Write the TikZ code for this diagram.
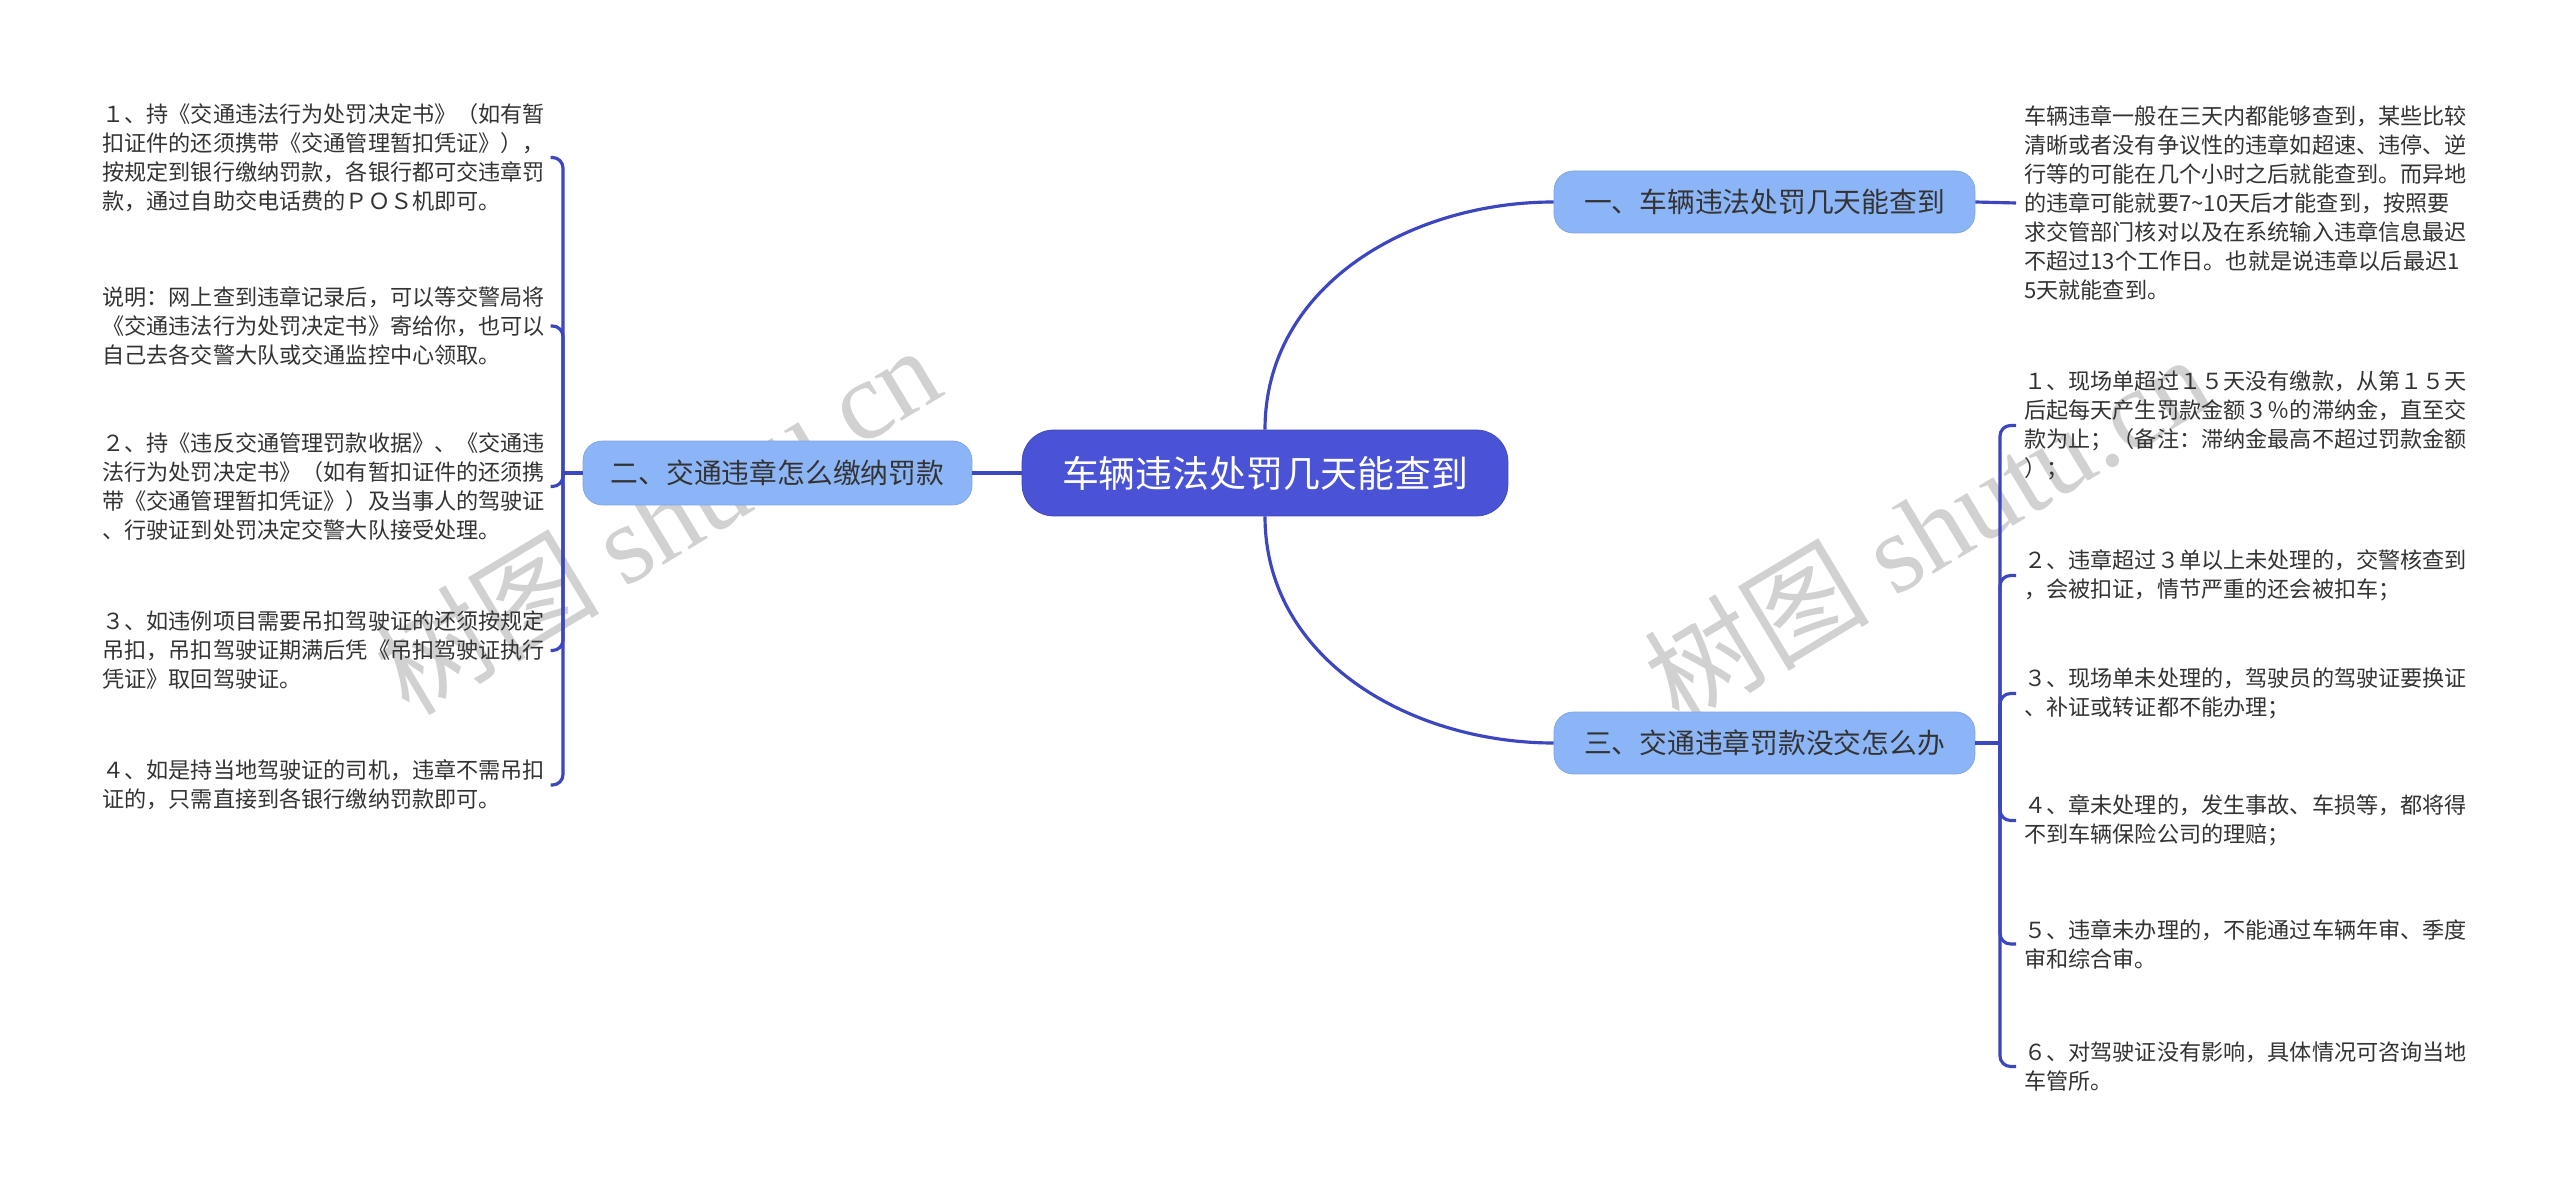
\documentclass[tikz,border=0pt]{standalone}
\usepackage{fontspec}
\setmainfont{Noto Sans CJK SC}
\newfontfamily\wmfont{Liberation Serif}
\usepackage{tikz}
\usetikzlibrary{positioning}
\definecolor{rootblue}{HTML}{4A52D6}
\definecolor{branchblue}{HTML}{8CB5F7}
\definecolor{linkblue}{HTML}{3C46BE}
\definecolor{bodygray}{HTML}{333333}

\begin{document}
\begin{tikzpicture}[x=0.02cm, y=-0.02cm,
    root/.style={fill=rootblue, draw=rootblue!85!black, text=white, rounded corners=18pt,
        minimum width=9.72cm, minimum height=1.72cm, font=\fontsize{21pt}{25pt}\selectfont},
    branch/.style={fill=branchblue, draw=branchblue!90!black, text=bodygray, rounded corners=11pt,
        minimum height=1.24cm, font=\fontsize{15.8pt}{19pt}\selectfont},
    leaf/.style={text=bodygray, align=left, text width=255pt, inner xsep=0pt, inner ysep=0pt,
        anchor=west, font=\fontsize{12.6pt}{16.5pt}\selectfont},
    rleaf/.style={leaf, inner xsep=4.5pt},
    link/.style={linkblue, line width=1.8pt},
    watermark/.style={text=black!18, rotate=31, font=\fontsize{64pt}{64pt}\selectfont}]

    % Canvas
    \fill[white] (0,0) rectangle (2560,1195);
    \useasboundingbox (0,0) rectangle (2560,1195);

    % Watermarks
    \node[watermark] (wmleft) at (657,519) {树图 {\wmfont shutu.cn}};
    \node[watermark] (wmright) at (1927,528) {树图 {\wmfont shutu.cn}};

    % Root and main branches
    \node[root] (root) at (1265,473) {车辆违法处罚几天能查到};
    \node[branch, minimum width=8.42cm] (b1) at (1764.5,202) {一、车辆违法处罚几天能查到};
    \node[branch, minimum width=7.78cm, minimum height=1.28cm] (b2) at (777.5,473) {二、交通违章怎么缴纳罚款};
    \node[branch, minimum width=8.42cm] (b3) at (1764.5,743) {三、交通违章罚款没交怎么办};

    % Left leaves
    \node[leaf] (l1) at (102,157.5) {１、持《交通违法行为处罚决定书》（如有暂\\扣证件的还须携带《交通管理暂扣凭证》），\\按规定到银行缴纳罚款，各银行都可交违章罚\\款，通过自助交电话费的ＰＯＳ机即可。};
    \node[leaf] (l2) at (102,326) {说明：网上查到违章记录后，可以等交警局将\\《交通违法行为处罚决定书》寄给你，也可以\\自己去各交警大队或交通监控中心领取。};
    \node[leaf] (l3) at (102,486.5) {２、持《违反交通管理罚款收据》、《交通违\\法行为处罚决定书》（如有暂扣证件的还须携\\带《交通管理暂扣凭证》）及当事人的驾驶证\\、行驶证到处罚决定交警大队接受处理。};
    \node[leaf] (l4) at (102,650.5) {３、如违例项目需要吊扣驾驶证的还须按规定\\吊扣，吊扣驾驶证期满后凭《吊扣驾驶证执行\\凭证》取回驾驶证。};
    \node[leaf] (l5) at (102,785) {４、如是持当地驾驶证的司机，违章不需吊扣\\证的，只需直接到各银行缴纳罚款即可。};

    % Right leaves
    \node[rleaf] (r0) at (2016,203) {车辆违章一般在三天内都能够查到，某些比较\\清晰或者没有争议性的违章如超速、违停、逆\\行等的可能在几个小时之后就能查到。而异地\\的违章可能就要7\textasciitilde10天后才能查到，按照要\\求交管部门核对以及在系统输入违章信息最迟\\不超过13个工作日。也就是说违章以后最迟1\\5天就能查到。};
    \node[rleaf] (r1) at (2016,425.5) {１、现场单超过１５天没有缴款，从第１５天\\后起每天产生罚款金额３％的滞纳金，直至交\\款为止；（备注：滞纳金最高不超过罚款金额\\）；};
    \node[rleaf] (r2) at (2016,575.5) {２、违章超过３单以上未处理的，交警核查到\\，会被扣证，情节严重的还会被扣车；};
    \node[rleaf] (r3) at (2016,693.5) {３、现场单未处理的，驾驶员的驾驶证要换证\\、补证或转证都不能办理；};
    \node[rleaf] (r4) at (2016,820.5) {４、章未处理的，发生事故、车损等，都将得\\不到车辆保险公司的理赔；};
    \node[rleaf] (r5) at (2016,944) {５、违章未办理的，不能通过车辆年审、季度\\审和综合审。};
    \node[rleaf] (r6) at (2016,1066.5) {６、对驾驶证没有影响，具体情况可咨询当地\\车管所。};

    % Junctions of the brackets
    \coordinate (lj) at (563,473);
    \coordinate (rj) at (2000,743);

    % Connectors from the root
    \draw[link] (root.north) to[out=90, in=180] (b1.west);
    \draw[link] (root.south) to[out=270, in=180] (b3.west);
    \draw[link] (root.west) -- (b2.east);
    \draw[link] (b1.east) -- (r0.west);

    % Brackets
    \draw[link] (b2.west) -- (lj);
    \foreach \i in {1,...,5} \draw[link, rounded corners=6pt] (lj) |- (l\i.east);
    \draw[link] (b3.east) -- (rj);
    \foreach \i in {1,...,6} \draw[link, rounded corners=6pt] (rj) |- (r\i.west);
\end{tikzpicture}
\end{document}
